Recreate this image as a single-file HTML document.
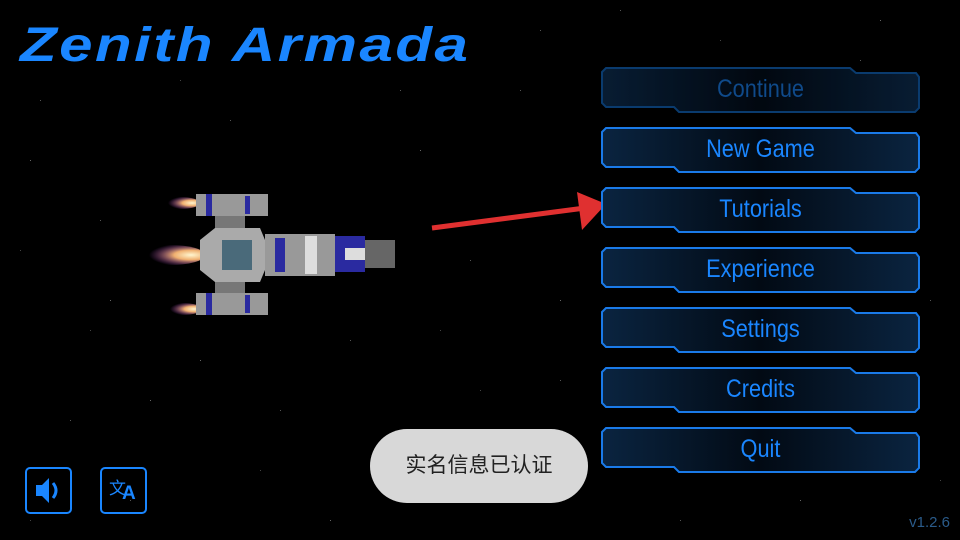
<!DOCTYPE html>
<html><head><meta charset="utf-8"><style>
*{margin:0;padding:0}
body{width:960px;height:540px;background:#000;overflow:hidden;position:relative;font-family:"Liberation Sans","Noto Sans CJK SC",sans-serif}
.stars{position:absolute;left:0;top:0;width:1px;height:1px;background:transparent;
box-shadow:40px 100px #555,90px 330px #444,150px 400px #666,230px 120px #555,300px 60px #444,350px 340px #555,420px 150px #666,480px 390px #444,520px 90px #555,560px 300px #666,130px 500px #555,260px 470px #444,330px 520px #666,470px 260px #555,20px 250px #444,70px 420px #555,200px 360px #666,390px 440px #444,540px 30px #555,880px 20px #666,930px 300px #555,940px 480px #444,680px 520px #555,800px 500px #666,620px 10px #555,720px 40px #444,860px 60px #555,250px 30px #666,400px 90px #555,180px 80px #444,30px 160px #666,100px 220px #555,440px 330px #444,500px 480px #666,560px 380px #555,30px 520px #444,280px 410px #555,110px 300px #666;}
.title{position:absolute;left:20px;top:18px;font-size:48px;font-style:italic;font-weight:bold;color:#1a86ff;letter-spacing:2px;font-family:"Liberation Sans",sans-serif;transform:scaleX(1.25);transform-origin:left top;white-space:nowrap}
.btn{position:absolute;left:601px;width:319px;height:45px}
.btn svg{position:absolute;left:0;top:0}
.btn span{position:absolute;left:0;width:319px;top:8px;text-align:center;font-size:25px;color:#1a86ff;transform:scaleX(0.87)}
.toast{position:absolute;left:370px;top:429px;width:218px;height:74px;border-radius:37px;background:#d8d8d8;color:#222;font-size:21px;text-align:center;line-height:74px;font-family:"Liberation Sans","Noto Sans CJK SC",sans-serif}
.ico{position:absolute;top:467px;width:43px;height:43px;border:2px solid #1a86ff;border-radius:5px}
.ver{position:absolute;right:10px;top:514px;color:#2a5b8a;font-size:15px}
</style></head><body>
<div class="stars"></div>
<div class="title">Zenith Armada</div>

<svg width="960" height="540" style="position:absolute;left:0;top:0">
<defs><radialGradient id="fl" cx="0.8" cy="0.5" r="0.6"><stop offset="0" stop-color="#fff6d0"/><stop offset="0.4" stop-color="#f0b070"/><stop offset="1" stop-color="#a040c0" stop-opacity="0"/></radialGradient>
<linearGradient id="bg" x1="0" x2="1"><stop offset="0" stop-color="#0a2440"/><stop offset="0.5" stop-color="#020a14"/><stop offset="1" stop-color="#0a2440"/></linearGradient></defs>
<ellipse cx="180" cy="203" rx="20" ry="6" fill="url(#fl)"/>
<ellipse cx="170" cy="255" rx="35" ry="10" fill="url(#fl)"/>
<ellipse cx="182" cy="309" rx="20" ry="6" fill="url(#fl)"/>
<rect x="196" y="194" width="72" height="22" fill="#999"/><rect x="206" y="194" width="6" height="22" fill="#2a2aa0"/><rect x="245" y="196" width="5" height="18" fill="#2a2aa0"/>
<rect x="196" y="293" width="72" height="22" fill="#999"/><rect x="206" y="293" width="6" height="22" fill="#2a2aa0"/><rect x="245" y="295" width="5" height="18" fill="#2a2aa0"/>
<rect x="215" y="216" width="30" height="77" fill="#777"/>
<polygon points="200,240 215,228 260,228 265,240 265,270 260,282 215,282 200,270" fill="#aaa"/>
<rect x="222" y="240" width="30" height="30" fill="#4a6a7a"/>
<rect x="265" y="234" width="70" height="42" fill="#999"/>
<rect x="275" y="238" width="10" height="34" fill="#2a2aa0"/><rect x="305" y="236" width="12" height="38" fill="#ddd"/>
<rect x="335" y="236" width="30" height="36" fill="#2a2aa0"/>
<rect x="345" y="248" width="40" height="12" fill="#ddd"/>
<rect x="365" y="240" width="30" height="28" fill="#666"/>
<line x1="432" y1="228" x2="585" y2="208" stroke="#e03030" stroke-width="5"/>
<polygon points="606,204 577,192 582,230" fill="#e03030"/>
</svg>

<div class="btn" style="top:67px"><svg width="320" height="46"><polygon points="1,5 5,1 249,1 255,6 315,6 318,10 318,41 314,45 78,45 73,40 5,40 1,36" fill="url(#bg)" stroke="#0d4a8a" stroke-width="2" opacity="0.8"/></svg><span style="color:#0f4a8a">Continue</span></div>
<div class="btn" style="top:127px"><svg width="320" height="46"><polygon points="1,5 5,1 249,1 255,6 315,6 318,10 318,41 314,45 78,45 73,40 5,40 1,36" fill="url(#bg)" stroke="#1a7ae8" stroke-width="2"/></svg><span>New Game</span></div>
<div class="btn" style="top:187px"><svg width="320" height="46"><polygon points="1,5 5,1 249,1 255,6 315,6 318,10 318,41 314,45 78,45 73,40 5,40 1,36" fill="url(#bg)" stroke="#1a7ae8" stroke-width="2"/></svg><span>Tutorials</span></div>
<div class="btn" style="top:247px"><svg width="320" height="46"><polygon points="1,5 5,1 249,1 255,6 315,6 318,10 318,41 314,45 78,45 73,40 5,40 1,36" fill="url(#bg)" stroke="#1a7ae8" stroke-width="2"/></svg><span>Experience</span></div>
<div class="btn" style="top:307px"><svg width="320" height="46"><polygon points="1,5 5,1 249,1 255,6 315,6 318,10 318,41 314,45 78,45 73,40 5,40 1,36" fill="url(#bg)" stroke="#1a7ae8" stroke-width="2"/></svg><span>Settings</span></div>
<div class="btn" style="top:367px"><svg width="320" height="46"><polygon points="1,5 5,1 249,1 255,6 315,6 318,10 318,41 314,45 78,45 73,40 5,40 1,36" fill="url(#bg)" stroke="#1a7ae8" stroke-width="2"/></svg><span>Credits</span></div>
<div class="btn" style="top:427px"><svg width="320" height="46"><polygon points="1,5 5,1 249,1 255,6 315,6 318,10 318,41 314,45 78,45 73,40 5,40 1,36" fill="url(#bg)" stroke="#1a7ae8" stroke-width="2"/></svg><span>Quit</span></div>

<div class="toast">实名信息已认证</div>
<div class="ico" style="left:25px"><svg width="43" height="43"><polygon points="9,16 15,16 22,9 22,34 15,27 9,27" fill="#1a86ff"/><path d="M26,14 Q32,21.5 26,29" stroke="#1a86ff" stroke-width="3" fill="none"/></svg></div>
<div class="ico" style="left:100px"><div style="position:absolute;left:7px;top:5px;color:#1a86ff;font-size:17px;font-family:'Noto Sans CJK SC',sans-serif">文</div><div style="position:absolute;left:20px;top:14px;color:#1a86ff;font-size:19px;font-weight:bold">A</div></div>
<div class="ver">v1.2.6</div>
</body></html>
